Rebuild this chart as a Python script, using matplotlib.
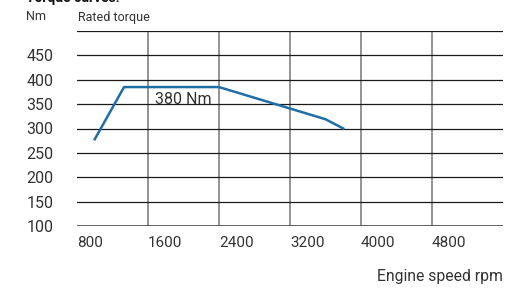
import matplotlib
matplotlib.use('Agg')
import matplotlib.pyplot as plt

plt.rcParams['font.family'] = ['Roboto', 'DejaVu Sans']

# torque curve
rpm = [1000, 1330, 2400, 3600, 3800]
torque = [278, 385, 385, 319, 300]

x_ticks = [800, 1600, 2400, 3200, 4000, 4800]
y_ticks = [100, 150, 200, 250, 300, 350, 400, 450]

fig = plt.figure(figsize=(5.09, 2.88), dpi=100)
ax = fig.add_axes([77 / 509, 1 - 226 / 288, 426 / 509, 195 / 288])

ax.set_xlim(800, 5600)
ax.set_ylim(100, 500)

# grid
for v in [1600, 2400, 3200, 4000, 4800]:
    ax.axvline(v, color='#8a8a8a', lw=1.3, zorder=1)
for v in y_ticks[1:] + [500]:
    ax.axhline(v, color='#1a1a1a', lw=0.9, zorder=1)
ax.axhline(100, color='#555555', lw=1.3, zorder=1)

ax.plot(rpm, torque, color='#1f6ea8', lw=1.8, zorder=3)
ax.text(1994, 360, '380 Nm', fontsize=11.5, color='#333333', ha='center', va='center')

for s in ax.spines.values():
    s.set_visible(False)
ax.tick_params(length=0)
ax.set_yticks(y_ticks)
ax.set_yticklabels([str(v) for v in y_ticks], fontsize=11.5, color='#333333')
ax.tick_params(axis='y', pad=17)
ax.set_xticks(x_ticks)
ax.set_xticklabels([str(v) for v in x_ticks], fontsize=11, color='#333333', ha='left')
ax.tick_params(axis='x', pad=7)

fig.text(26 / 509, 1 - 17 / 288, 'Nm', fontsize=9, color='#333333', va='center')
fig.text(78 / 509, 1 - 17 / 288, 'Rated torque', fontsize=9, color='#333333', va='center')
fig.text(503 / 509, 1 - 277 / 288, 'Engine speed rpm', fontsize=11.3, color='#333333',
         ha='right', va='center')
fig.text(26 / 509, 1 - 2 / 288, 'Torque curves:', fontsize=10, fontweight='bold',
         color='#111111', va='baseline')

fig.savefig('out.png', dpi=100)
